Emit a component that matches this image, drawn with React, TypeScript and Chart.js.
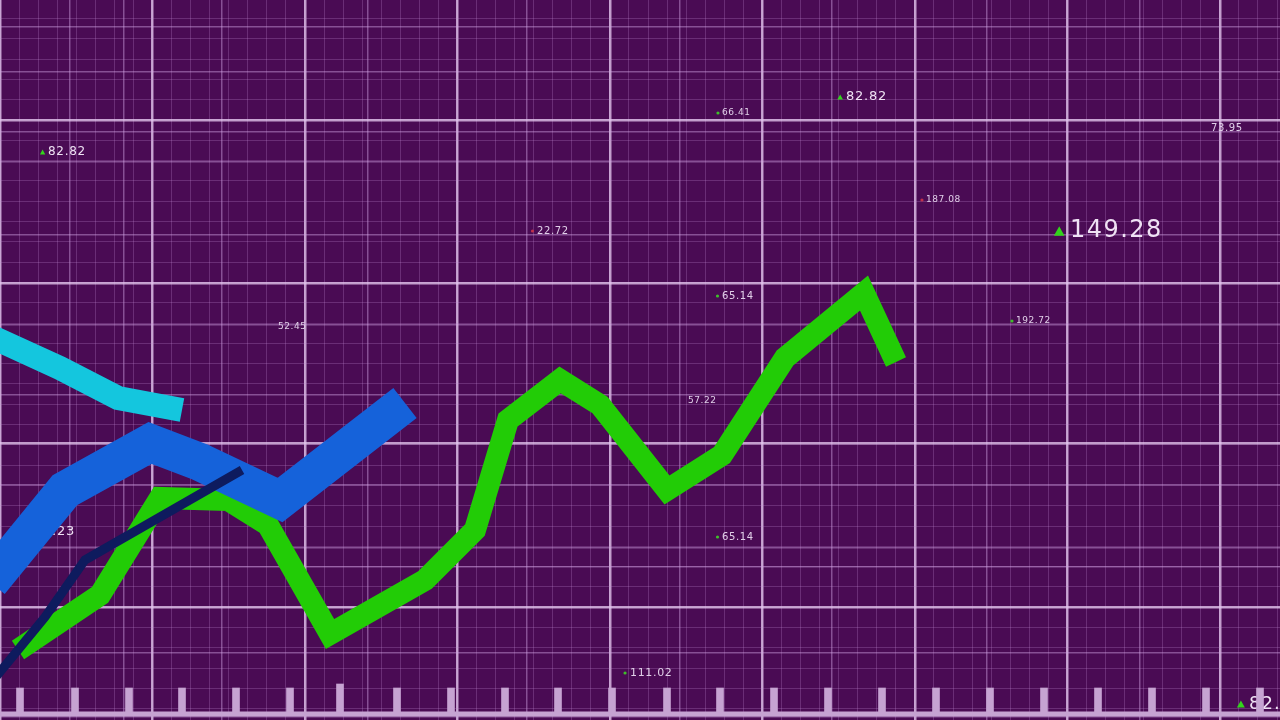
import React, { useEffect, useRef } from "react";
import { Chart, registerables } from "chart.js";

Chart.register(...registerables);

// ---- data (x: 0..128 time units, y: 0..72 value units) ----
const greenX = [1.8, 10.0, 16.0, 22.8, 26.8, 33.0, 42.5, 47.5, 50.8, 56.0, 60.0, 66.7, 72.2, 78.5, 86.4, 89.6];
const greenY = [7.0, 12.5, 22.2, 22.0, 19.5, 8.6, 14.0, 19.0, 30.0, 34.0, 31.5, 23.0, 26.5, 36.2, 42.7, 35.8];

const blueX = [-1.0, 6.5, 15.0, 20.0, 28.0, 40.5];
const blueY = [13.8, 23.0, 27.7, 25.8, 22.0, 31.7];

const cyanX = [-1.0, 6.0, 11.8, 18.2];
const cyanY = [38.4, 35.2, 32.2, 31.0];

const navyX = [-1.0, 4.5, 8.5, 24.2];
const navyY = [3.6, 10.3, 16.0, 25.0];

const tickX = [2.0, 7.5, 12.9, 18.2, 23.6, 29.0, 34.0, 39.7, 45.1, 50.5, 55.8, 61.2, 66.7, 72.0, 77.4, 82.8, 88.2, 93.6, 99.0, 104.4, 109.8, 115.2, 120.6, 126.0];
const tickTop = [3.2, 3.2, 3.2, 3.2, 3.2, 3.2, 3.6, 3.2, 3.2, 3.2, 3.2, 3.2, 3.2, 3.2, 3.2, 3.2, 3.2, 3.2, 3.2, 3.2, 3.2, 3.2, 3.2, 3.2];
const tickBase = 0.6;
const baselineX = [0, 128];
const baselineY = [0.6, 0.6];

const labelTexts = ["52.23", "82.82", "52.45", "22.72", "66.41", "82.82", "187.08", "149.28", "192.72", "73.95", "65.14", "57.22", "65.14", "111.02", "82.82"];
const labelX = [3.4, 4.8, 27.8, 53.7, 72.2, 84.6, 92.6, 107.0, 101.6, 121.1, 72.2, 68.8, 72.2, 63.0, 124.9];
const labelY = [18.8, 56.8, 39.3, 48.9, 60.7, 62.3, 52.0, 48.9, 39.9, 59.2, 42.4, 31.9, 18.3, 4.7, 1.6];
const labelMarker = ["", "tri", "", "red", "green", "tri", "red", "tri", "green", "", "green", "", "green", "green", "tri"];
const labelSize = [13, 12, 9, 10, 9, 13, 9, 24, 9, 10, 10, 9, 10, 11, 18];

// ---- grid pattern ----
const coarseVX = [0, 15.25, 30.5, 45.75, 61.0, 76.25, 91.5, 106.75, 122.0];
const medVX = [7.0, 12.4, 22.2, 36.8, 52.7, 68.0, 83.2, 98.7, 114.0, 129.2];
const coarseHY = [60.0, 43.7, 27.7, 11.3];
const medHY = [69.3, 64.8, 58.8, 55.8, 48.5, 39.5, 32.5, 23.5, 17.2, 15.3, 6.7, 0.3];

function stepTicks(start: number, step: number, max: number) {
  const out: number[] = [];
  for (let v = start; v <= max + 0.001; v += step) out.push(+v.toFixed(3));
  return out;
}
const fineVX = stepTicks(0, 1.906, 128);
const fineHY = stepTicks(60.0 - 2.03 * 29, 2.03, 72).filter((v) => v >= 0);

const pts = (xs: number[], ys: number[]) => xs.map((x, i) => ({ x, y: ys[i] }));

function gridScale(axis: "x" | "y", values: number[], color: string, width: number) {
  return {
    type: "linear" as const,
    axis,
    position: axis === "x" ? "bottom" : "left",
    min: 0,
    max: axis === "x" ? 128 : 72,
    offset: false,
    display: true,
    ticks: { display: false },
    border: { display: false },
    grid: { color, lineWidth: width, drawTicks: false, offset: false },
    afterBuildTicks: (s: any) => {
      s.ticks = values.map((v) => ({ value: v }));
    },
  };
}

const bgPlugin = {
  id: "bg",
  beforeDraw(chart: any) {
    const { ctx, width, height } = chart;
    ctx.save();
    ctx.fillStyle = "#4a0b54";
    ctx.fillRect(0, 0, width, height);
    ctx.restore();
  },
};

const labelPlugin = {
  id: "floatLabels",
  beforeDatasetsDraw(chart: any) {
    const { ctx } = chart;
    const xs = chart.scales.x;
    const ys = chart.scales.y;
    ctx.save();
    labelTexts.forEach((t, i) => {
      const px = xs.getPixelForValue(labelX[i]);
      const py = ys.getPixelForValue(labelY[i]);
      const fs = labelSize[i];
      ctx.font = `${fs}px "DejaVu Sans"`;
      (ctx as any).letterSpacing = `${(fs * 0.06).toFixed(2)}px`;
      ctx.fillStyle = fs >= 12 ? "#efe2f4" : "#e0cfe8";
      ctx.textBaseline = "middle";
      ctx.textAlign = "left";
      ctx.fillText(t, px, py);
      const m = labelMarker[i];
      const mx = px - fs * 0.45;
      if (m === "tri") {
        const hw = fs * 0.22;
        ctx.fillStyle = "#33d41c";
        ctx.beginPath();
        ctx.moveTo(mx - hw, py + hw * 0.9);
        ctx.lineTo(mx + hw, py + hw * 0.9);
        ctx.lineTo(mx, py - hw * 0.9);
        ctx.closePath();
        ctx.fill();
      } else if (m === "green" || m === "red") {
        ctx.fillStyle = m === "green" ? "#3fbf2a" : "#c0304a";
        ctx.beginPath();
        ctx.arc(mx, py, 1.6, 0, Math.PI * 2);
        ctx.fill();
      }
    });
    ctx.restore();
  },
};

export default function App() {
  const ref = useRef<HTMLCanvasElement | null>(null);
  useEffect(() => {
    if (!ref.current) return;
    const lineCommon = {
      type: "line" as const,
      pointRadius: 0,
      tension: 0,
      borderCapStyle: "butt" as const,
      borderJoinStyle: "miter" as const,
      fill: false,
      xAxisID: "x",
      yAxisID: "y",
    };
    const chart = new Chart(ref.current, {
      type: "line",
      data: {
        datasets: [
          { ...lineCommon, data: pts(navyX, navyY), borderColor: "#0e1b5e", borderWidth: 9 },
          { ...lineCommon, data: pts(cyanX, cyanY), borderColor: "#14c6de", borderWidth: 24 },
          { ...lineCommon, data: pts(blueX, blueY), borderColor: "#1562da", borderWidth: 38 },
          { ...lineCommon, data: pts(greenX, greenY), borderColor: "#22cc06", borderWidth: 22 },
          { ...lineCommon, data: pts(baselineX, baselineY), borderColor: "#c6a3d2", borderWidth: 5 },
          {
            type: "bar" as const,
            data: tickX.map((x, i) => ({ x, y: [tickBase, tickTop[i]] })) as any,
            backgroundColor: "#c6a3d2",
            barThickness: 7,
            grouped: false,
            xAxisID: "x",
            yAxisID: "y",
          },
        ],
      },
      options: {
        animation: false,
        responsive: false,
        events: [],
        layout: { padding: 0 },
        plugins: { legend: { display: false }, tooltip: { enabled: false } },
        scales: {
          x: gridScale("x", fineVX, "rgba(190,135,210,0.28)", 1),
          xMed: gridScale("x", medVX, "rgba(210,165,228,0.45)", 1.5),
          xCoarse: gridScale("x", coarseVX, "rgba(228,198,238,0.78)", 2.5),
          y: gridScale("y", fineHY, "rgba(190,135,210,0.28)", 1),
          yMed: gridScale("y", medHY, "rgba(210,165,228,0.45)", 1.5),
          yCoarse: gridScale("y", coarseHY, "rgba(228,198,238,0.78)", 2.5),
        } as any,
      },
      plugins: [bgPlugin, labelPlugin],
    });
    return () => chart.destroy();
  }, []);
  return (
    <div style={{ position: "fixed", left: 0, top: 0, width: 1280, height: 720 }}>
      <canvas ref={ref} width={1280} height={720} style={{ display: "block" }} />
    </div>
  );
}
